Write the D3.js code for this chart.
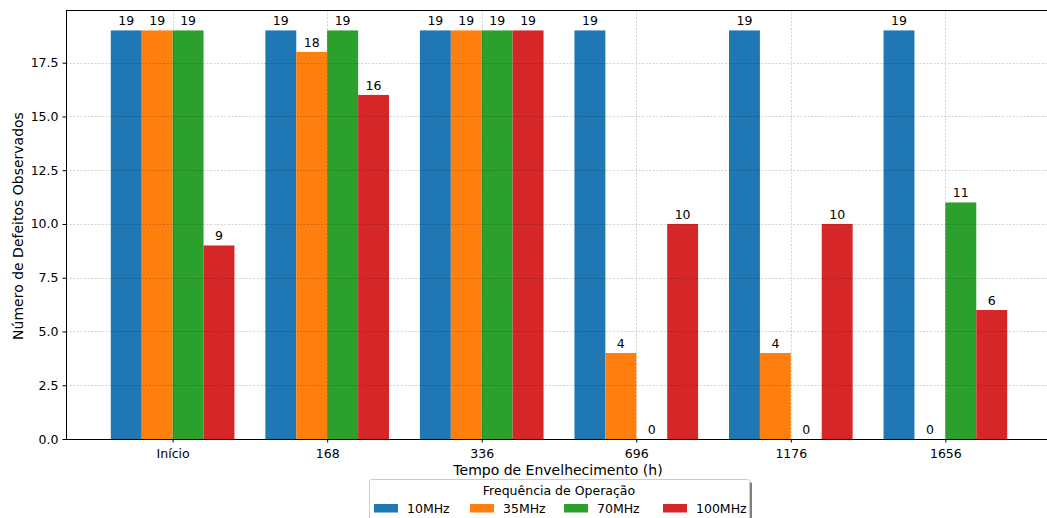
<!DOCTYPE html>
<html><head><meta charset="utf-8">
<script src="https://cdn.jsdelivr.net/npm/d3@7"></script>
<style>body{margin:0;background:#fff;} svg{display:block;font-family:"DejaVu Sans",sans-serif;}</style>
</head><body>
<svg id="c" width="1047" height="518"></svg>
<script>
const categories = ["Início","168","336","696","1176","1656"];
const seriesNames = ["10MHz","35MHz","70MHz","100MHz"];
const s10 = [19,19,19,19,19,19];
const s35 = [19,18,19,4,4,0];
const s70 = [19,19,19,0,0,11];
const s100 = [9,16,19,10,10,6];
const yTicks = [0,2.5,5,7.5,10,12.5,15,17.5];
const colors = ["#1f77b4","#ff7f0e","#2ca02c","#d62728"];
const series = [s10,s35,s70,s100];

const svg = d3.select("#c");
const L=66, R=1052, T=10, B=439;
const x = d3.scaleLinear().domain([-0.69,5.69]).range([L,R]);
const y = d3.scaleLinear().domain([0,19.95]).range([B,T]);
const bw = 0.2;

// bars
series.forEach((s,si)=>{
  const off = -0.3 + si*0.2;
  svg.append("g").selectAll("rect").data(s).join("rect")
    .attr("x",(d,i)=>x(i+off-bw/2)).attr("width",x(bw)-x(0))
    .attr("y",d=>y(d)).attr("height",d=>y(0)-y(d))
    .attr("fill",colors[si]);
  svg.append("g").selectAll("text").data(s).join("text")
    .attr("x",(d,i)=>x(i+off)).attr("y",d=>y(d)-5)
    .attr("text-anchor","middle").attr("font-size",12.5).attr("fill","#000")
    .text(d=>d);
});

// grid over bars
const g = svg.append("g").attr("stroke","#000").attr("stroke-opacity",0.22).attr("stroke-width",0.8).attr("stroke-dasharray","2,1.6");
g.selectAll("line.h").data(yTicks).join("line").attr("class","h")
  .attr("x1",L).attr("x2",R).attr("y1",d=>Math.round(y(d))+0.5).attr("y2",d=>Math.round(y(d))+0.5);
g.selectAll("line.v").data(categories.map((c,i)=>i)).join("line").attr("class","v")
  .attr("y1",T).attr("y2",B).attr("x1",d=>Math.round(x(d))+0.5).attr("x2",d=>Math.round(x(d))+0.5);

// axes
const ya = svg.append("g").attr("transform",`translate(${L},0)`)
  .call(d3.axisLeft(y).tickValues(yTicks).tickFormat(d3.format(".1f")).tickSize(3.5).tickPadding(4));
const xa = svg.append("g").attr("transform",`translate(0,${B})`)
  .call(d3.axisBottom(x).tickValues(categories.map((c,i)=>i)).tickFormat(i=>categories[i]).tickSize(3.5).tickPadding(4));
[ya,xa].forEach(a=>{a.selectAll("text").attr("font-size",12.5).attr("fill","#000").attr("font-family","DejaVu Sans");a.select(".domain").remove();a.selectAll(".tick line").attr("stroke","#000");});
xa.selectAll("text").attr("dy","0.9em");
// spines
svg.append("line").attr("x1",L+0.5).attr("x2",L+0.5).attr("y1",T).attr("y2",B).attr("stroke","#000").attr("stroke-width",1);
svg.append("line").attr("x1",L).attr("x2",R).attr("y1",B+0.5).attr("y2",B+0.5).attr("stroke","#000").attr("stroke-width",1);
svg.append("line").attr("x1",L).attr("x2",R).attr("y1",T+0.5).attr("y2",T+0.5).attr("stroke","#000").attr("stroke-width",1);
svg.append("line").attr("x1",R-0.5).attr("x2",R-0.5).attr("y1",T).attr("y2",B).attr("stroke","#000");

// labels
svg.append("text").attr("x",558).attr("y",475).attr("text-anchor","middle").attr("font-size",14).text("Tempo de Envelhecimento (h)");
svg.append("text").attr("transform",`translate(23,226) rotate(-90)`).attr("text-anchor","middle").attr("font-size",14).text("Número de Defeitos Observados");

// legend
const lg = svg.append("g");
lg.append("rect").attr("x",372).attr("y",482).attr("width",380).attr("height",50).attr("fill","#000").attr("opacity",0.5).attr("rx",2);
lg.append("rect").attr("x",369.5).attr("y",479.5).attr("width",380).attr("height",50).attr("fill","#fff").attr("stroke","#ccc").attr("rx",2);
lg.append("text").attr("x",559).attr("y",495).attr("text-anchor","middle").attr("font-size",12.5).text("Frequência de Operação");
const lx = [374,470,564,663];
seriesNames.forEach((n,i)=>{
  lg.append("rect").attr("x",lx[i]).attr("y",504).attr("width",24).attr("height",8.5).attr("fill",colors[i]);
  lg.append("text").attr("x",lx[i]+33).attr("y",512.5).attr("font-size",12.5).text(n);
});
</script>
</body></html>
